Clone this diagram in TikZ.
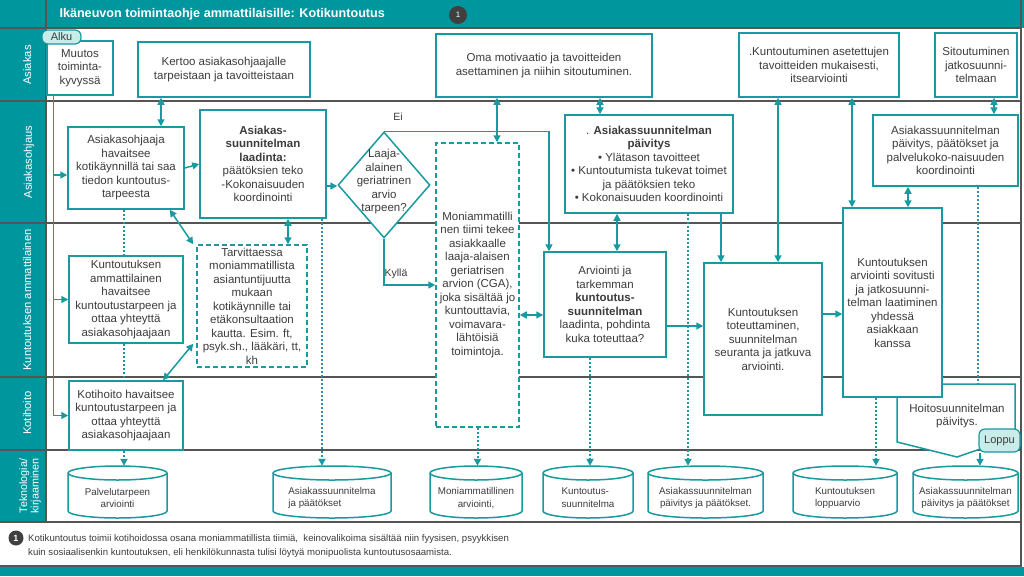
\documentclass[tikz,border=0pt]{standalone}
\usepackage{fontspec}
\setmainfont{Liberation Sans}
\usepackage{tikz}
\usetikzlibrary{arrows.meta}
\usetikzlibrary{shapes.geometric}

\definecolor{tealc}{RGB}{24,154,160}
\definecolor{headc}{RGB}{0,150,158}
\definecolor{txtc}{RGB}{60,60,60}
\definecolor{lanec}{RGB}{85,85,85}
\definecolor{termc}{RGB}{200,236,232}
\definecolor{badgec}{RGB}{64,64,64}

% cylinder for the records: [options]{name}{x}{y}{width}{text}
\newcommand{\dbnode}[6][]{%
	\draw[draw=tealc,fill=white,line width=1.5pt]
		(#3-#5/2,#4-19) -- (#3-#5/2,#4+19)
		arc[start angle=180,end angle=360,x radius=#5pt/2,y radius=7pt]
		-- (#3+#5/2,#4-19)
		arc[start angle=0,end angle=180,x radius=#5pt/2,y radius=7pt] -- cycle;
	\draw[draw=tealc,line width=1.5pt] (#3-#5/2,#4-19)
		arc[start angle=180,end angle=360,x radius=#5pt/2,y radius=7pt];
	\node[minimum width=#5pt,minimum height=52pt,inner sep=0pt] (#2) at (#3,#4) {};
	\node[db text,#1] (#2 text) at (#3,#4+6) {#6};
}

\begin{document}
\begin{tikzpicture}[x=1pt,y=-1pt,
		tri/.tip={Triangle[length=7pt,width=7pt]},
		proc node/.style={draw=tealc,fill=white,line width=1.5pt,align=center,
			text=txtc,font=\fontsize{11.5}{13.5}\selectfont,inner sep=2pt},
		dash node/.style={proc node,dash pattern=on 5pt off 3pt},
		db text/.style={text=txtc,align=center,inner sep=1pt,
			font=\fontsize{9.8}{12.8}\selectfont},
		term node/.style={draw=tealc,fill=termc,rounded corners=6pt,line width=1.2pt,
			text=txtc,font=\fontsize{11}{12}\selectfont,inner sep=1pt},
		lane label/.style={rotate=90,text=white,align=center,
			font=\fontsize{11.2}{12}\selectfont},
		flow/.style={draw=tealc,line width=1.5pt,-tri},
		both flow/.style={flow,tri-tri},
		dot line/.style={draw=tealc,line width=2pt,dotted},
		dot flow/.style={dot line,-tri}]
	
	% frame and lanes
	\useasboundingbox (0,0) rectangle (1024,576);
	\fill[white] (0,0) rectangle (1024,576);
	\fill[headc] (0,0) rectangle (1024,28);
	\fill[headc] (0,28) rectangle (46,522);
	\fill[headc] (0,567) rectangle (1024,576);
	\foreach \y in {28,101,223,377,450,522,566}
		\draw[draw=lanec,line width=1.1pt] (0,\y) -- (1021,\y);
	\draw[draw=lanec,line width=1.1pt] (46,0) -- (46,522);
	\draw[draw=lanec,line width=1.1pt] (1021,0) -- (1021,567);
	
	\node[anchor=west,text=white,font=\bfseries\fontsize{12.6}{14}\selectfont] (title) at (56,14)
		{Ikäneuvon toimintaohje ammattilaisille: Kotikuntoutus};
	\node[circle,fill=badgec,text=white,inner sep=0pt,minimum size=18pt,
		font=\fontsize{8}{8}\selectfont] (badge) at (458,15) {1};
	
	\node[lane label] (l asiakas) at (27,65) {Asiakas};
	\node[lane label] (l ohjaus) at (29,162) {Asiakasohjaus};
	\node[lane label] (l amm) at (27,300) {Kuntoutuksen ammattilainen};
	\node[lane label] (l koti) at (27,413) {Kotihoito};
	\node[lane label,font=\fontsize{10.8}{11.5}\selectfont] (l tekno) at (30,486) {Teknologia/\\kirjaaminen};
	
	% Asiakas
	\node[proc node,minimum width=66pt,minimum height=54pt] (muutos) at (80,68) {Muutos\\toiminta-\\kyvyssä};
	\node[term node,minimum width=39pt,minimum height=14pt] (alku) at (61.5,37) {Alku};
	\node[proc node,minimum width=172pt,minimum height=55pt] (kertoo) at (224,69.5)
		{Kertoo asiakasohjaajalle\\tarpeistaan ja tavoitteistaan};
	\node[proc node,minimum width=216pt,minimum height=63pt] (oma) at (544,65.5)
		{Oma motivaatio ja tavoitteiden\\asettaminen ja niihin sitoutuminen.};
	\node[proc node,minimum width=160pt,minimum height=64pt] (kunt) at (819,65)
		{.Kuntoutuminen asetettujen\\tavoitteiden mukaisesti,\\itsearviointi};
	\node[proc node,minimum width=82pt,minimum height=64pt] (sitou) at (976,65)
		{Sitoutuminen\\jatkosuunni-\\telmaan};
	
	% Asiakasohjaus
	\node[proc node,minimum width=116pt,minimum height=82pt] (ohj) at (126,168)
		{Asiakasohjaaja\\havaitsee\\kotikäynnillä tai saa\\tiedon kuntoutus-\\tarpeesta};
	\node[proc node,minimum width=126pt,minimum height=108pt] (laad) at (263,164)
		{\textbf{Asiakas-}\\\textbf{suunnitelman}\\\textbf{laadinta:}\\päätöksien teko\\-Kokonaisuuden\\koordinointi};
	\node[diamond,draw=tealc,fill=white,line width=1.5pt,minimum width=92pt,
		minimum height=106pt,inner sep=0pt] (dec) at (384,185) {};
	\node[align=center,text=txtc,font=\fontsize{11.5}{13.5}\selectfont] (dec text) at (384,182)
		{Laaja-\\alainen\\geriatrinen\\arvio\\tarpeen?};
	\node[dash node,minimum width=83pt,minimum height=284pt] (cga) at (477.5,285)
		{Moniammatilli\\nen tiimi tekee\\asiakkaalle\\laaja-alaisen\\geriatrisen\\arvion (CGA),\\joka sisältää jo\\kuntouttavia,\\voimavara-\\lähtöisiä\\toimintoja.};
	\node[proc node,minimum width=168pt,minimum height=98pt] (paiv) at (649,164)
		{. \textbf{Asiakassuunnitelman}\\\textbf{päivitys}\\\textbullet{} Ylätason tavoitteet\\\textbullet{} Kuntoutumista tukevat toimet\\ja päätöksien teko\\\textbullet{} Kokonaisuuden koordinointi};
	\node[proc node,minimum width=145pt,minimum height=71pt] (paiv2) at (945.5,150.5)
		{Asiakassuunnitelman\\päivitys, päätökset ja\\palvelukoko-naisuuden\\koordinointi};
	
	% Kuntoutuksen ammattilainen
	\node[proc node,minimum width=114pt,minimum height=87pt] (amm) at (126,299.5)
		{Kuntoutuksen\\ammattilainen\\havaitsee\\kuntoutustarpeen ja\\ottaa yhteyttä\\asiakasohjaajaan};
	\node[dash node,minimum width=110pt,minimum height=122pt] (tarv) at (252,306)
		{Tarvittaessa\\moniammatillista\\asiantuntijuutta\\mukaan\\kotikäynnille tai\\etäkonsultaation\\kautta. Esim. ft,\\psyk.sh., lääkäri, tt,\\kh};
	\node[proc node,minimum width=122pt,minimum height=105pt] (arv) at (605,304.5)
		{Arviointi ja\\tarkemman\\\textbf{kuntoutus-}\\\textbf{suunnitelman}\\laadinta, pohdinta\\kuka toteuttaa?};
	\node[proc node,minimum width=118pt,minimum height=152pt] (tot) at (763,339)
		{Kuntoutuksen\\toteuttaminen,\\suunnitelman\\seuranta ja jatkuva\\arviointi.};
	\draw[draw=tealc,fill=white,line width=1.5pt]
		(897,384) -- (1015,384) -- (1015,437) -- (957,457) -- (897,442) -- cycle;
	\coordinate (hoito top) at (978,384);
	\node[align=center,text=txtc,font=\fontsize{11.5}{13.5}\selectfont] (hoito) at (957,416)
		{Hoitosuunnitelman\\päivitys.};
	\node[proc node,minimum width=99pt,minimum height=189pt] (jatko) at (892.5,302.5)
		{Kuntoutuksen\\arviointi sovitusti\\ja jatkosuunni-\\telman laatiminen\\yhdessä\\asiakkaan\\kanssa};
	
	% Kotihoito
	\node[proc node,minimum width=114pt,minimum height=69pt] (koti) at (126,415.5)
		{Kotihoito havaitsee\\kuntoutustarpeen ja\\ottaa yhteyttä\\asiakasohjaajaan};
	\node[term node,minimum width=41pt,minimum height=23pt] (loppu) at (999.5,440.5) {Loppu};
	
	% Teknologia / kirjaaminen
	\dbnode{c1}{117.5}{492}{99}{Palvelutarpeen\\arviointi}
	\dbnode[align=left]{c2}{332}{492}{118}{Asiakassuunnitelma\\ja päätökset}
	\dbnode{c3}{476}{492}{92}{Moniammatillinen\\arviointi,}
	\dbnode[align=left]{c4}{588}{492}{90}{Kuntoutus-\\suunnitelma}
	\dbnode{c5}{705.5}{492}{115}{Asiakassuunnitelman\\päivitys ja päätökset.}
	\dbnode[align=left]{c6}{845}{492}{104}{Kuntoutuksen\\loppuarvio}
	\dbnode{c7}{965.5}{492}{105}{Asiakassuunnitelman\\päivitys ja päätökset}
	
	% connectors
	\coordinate (lft) at ([xshift=7pt]muutos.south west);
	\draw[flow] (lft) |- (koti.west);
	\draw[flow] ([yshift=-7pt]ohj.west -| lft) -- ([yshift=-7pt]ohj.west);
	\draw[flow] (amm.west -| lft) -- (amm.west);
	\draw[both flow] ([xshift=35pt]ohj.north) -- ([xshift=35pt]ohj.north |- kertoo.south);
	\draw[flow] (ohj.east) -- (laad.west);
	\draw[flow] ([yshift=-22pt]laad.east) -- ([yshift=-22pt]laad.east -| dec.west);
	\draw[both flow] ([xshift=-15pt]ohj.south east) -- ([xshift=-3pt]tarv.north west);
	\draw[both flow] ([xshift=25pt]laad.south) -- ([xshift=25pt]laad.south |- tarv.north);
	\draw[both flow] ([xshift=-3pt,yshift=24pt]tarv.south west) -- ([xshift=37pt]koti.north);
	\draw[flow] (dec.north) -| ([xshift=-56pt]arv.north);
	\draw[flow] (dec.south) |- (cga.west);
	\node[text=txtc,font=\fontsize{10.5}{12}\selectfont] (ei) at (398,117) {Ei};
	\node[text=txtc,font=\fontsize{10.5}{12}\selectfont] (kylla) at (396,274) {Kyllä};
	\draw[both flow] ([xshift=19.5pt]cga.north) -- ([xshift=19.5pt]cga.north |- oma.south);
	\draw[both flow] ([xshift=-49pt]paiv.north) -- ([xshift=-49pt]paiv.north |- oma.south);
	\draw[both flow] ([xshift=12pt]arv.north) -- ([xshift=12pt]arv.north |- paiv.south);
	\draw[flow] ([xshift=-42pt]tot.north |- paiv.south) -- ([xshift=-42pt]tot.north);
	\draw[both flow] ([xshift=15pt]tot.north |- kunt.south) -- ([xshift=15pt]tot.north);
	\draw[both flow] ([xshift=-40.5pt]jatko.north |- kunt.south) -- ([xshift=-40.5pt]jatko.north);
	\draw[both flow] ([xshift=18pt]sitou.south) -- ([xshift=18pt]sitou.south |- paiv2.north);
	\draw[both flow] ([xshift=15.5pt]jatko.north) -- ([xshift=15.5pt]jatko.north |- paiv2.south);
	\draw[both flow] ([yshift=-30pt]cga.east) -- ([yshift=-30pt]cga.east -| arv.west);
	\draw[flow] ([yshift=-21.5pt]arv.east) -- ([yshift=-21.5pt]arv.east -| tot.west);
	\draw[flow] ([yshift=25pt]tot.east) -- ([yshift=25pt]tot.east -| jatko.west);
	\draw[flow] ([xshift=-19.5pt]loppu.south) -- ([xshift=-19.5pt]loppu.south |- c7.north);
	
	% kirjaaminen
	\draw[dot line] ([xshift=-2pt]ohj.south) -- ([xshift=-2pt]amm.north);
	\draw[dot line] ([xshift=-2pt]amm.south) -- ([xshift=-2pt]koti.north);
	\draw[dot flow] ([xshift=-2pt]koti.south) -- ([xshift=-2pt]koti.south |- c1.north);
	\draw[dot flow] ([xshift=59pt]laad.south) -- ([xshift=59pt]laad.south |- c2.north);
	\draw[dot flow] (cga.south) -- (cga.south |- c3.north);
	\draw[dot flow] ([xshift=-15pt]arv.south) -- ([xshift=-15pt]arv.south |- c4.north);
	\draw[dot flow] ([xshift=39pt]paiv.south) -- ([xshift=39pt]paiv.south |- c5.north);
	\draw[dot flow] ([xshift=-16.5pt]jatko.south) -- ([xshift=-16.5pt]jatko.south |- c6.north);
	\draw[dot line] ([xshift=32.5pt]paiv2.south) -- (hoito top);
	
	% footnote
	\node[circle,fill=badgec,text=white,inner sep=0pt,minimum size=15pt,
		font=\bfseries\fontsize{9}{9}\selectfont] (note badge) at (16,538) {1};
	\node[anchor=north west,align=left,text=txtc,inner sep=0pt,
		font=\fontsize{9.6}{14}\selectfont] (note) at (28,534)
		{Kotikuntoutus toimii kotihoidossa osana moniammatillista tiimiä,\ \ keinovalikoima sisältää niin fyysisen, psyykkisen\\
		kuin sosiaalisenkin kuntoutuksen, eli henkilökunnasta tulisi löytyä monipuolista kuntoutusosaamista.};
\end{tikzpicture}
\end{document}
